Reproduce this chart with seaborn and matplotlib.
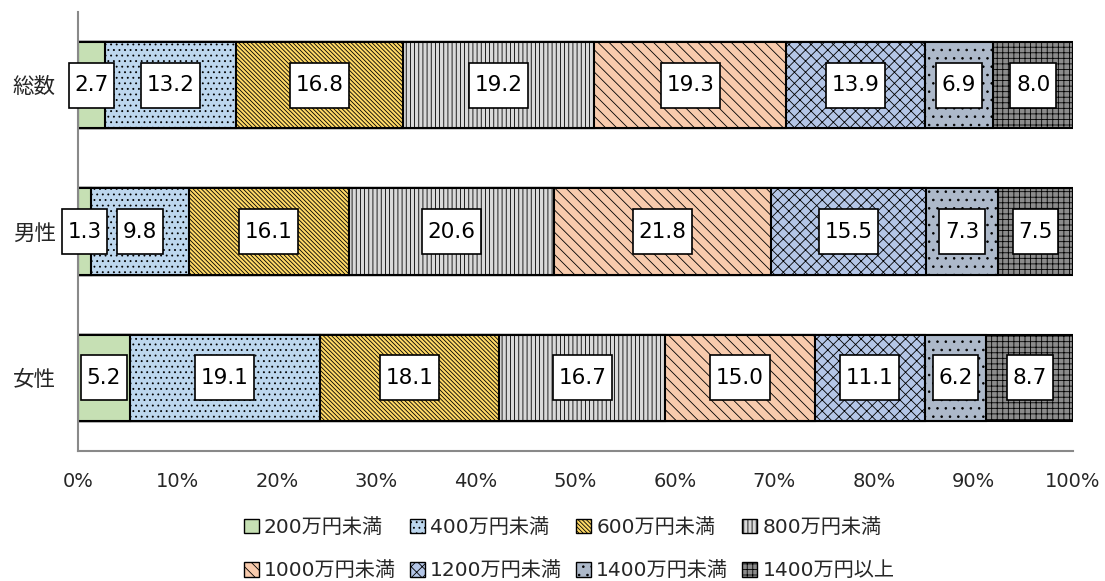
import matplotlib.pyplot as plt
import numpy as np
import pandas as pd
import seaborn as sns
from matplotlib.patches import Patch
from matplotlib.path import Path

# data
groups = ['総数', '男性', '女性']
brackets = ['200万円未満', '400万円未満', '600万円未満', '800万円未満',
            '1000万円未満', '1200万円未満', '1400万円未満', '1400万円以上']
total = [2.7, 13.2, 16.8, 19.2, 19.3, 13.9, 6.9, 8.0]
male = [1.3, 9.8, 16.1, 20.6, 21.8, 15.5, 7.3, 7.5]
female = [5.2, 19.1, 18.1, 16.7, 15.0, 11.1, 6.2, 8.7]

colors = ['#C6E0B4', '#BDD7EE', '#FFD966', '#D9D9D9',
          '#F8CBAD', '#B4C6E7', '#ADB9CA', '#8C8C8C']
hatches = ['', '...', '\\\\\\\\\\\\\\\\', '||||', '\\\\\\', 'xxx', '..', '+++']

sns.set_style('white')
plt.rcParams['font.family'] = ['DejaVu Sans', 'Noto Sans CJK JP']
plt.rcParams['hatch.linewidth'] = 0.6


# label box: a bit of side padding, more on top and bottom
def tall_box(x0, y0, width, height, mutation_size):
    px, py = 0.26 * mutation_size, 0.58 * mutation_size
    x0, y0 = x0 - px, y0 - py
    x1, y1 = x0 + width + 2 * px, y0 + height + 2 * py
    return Path([(x0, y0), (x1, y0), (x1, y1), (x0, y1), (x0, y0)], closed=True)


df = pd.DataFrame([total, male, female], index=groups, columns=brackets)
shares = df.div(df.sum(axis=1), axis=0) * 100
cum = shares.cumsum(axis=1)

fig = plt.figure(figsize=(11.05, 5.81), dpi=100)
ax = fig.add_axes([0.0706, 0.224, 0.9004, 0.755])

# stacked bars: draw cumulative totals from the last bracket backwards
for i in reversed(range(len(brackets))):
    sns.barplot(x=cum.iloc[:, i].values, y=groups, orient='h', ax=ax,
                color=colors[i], hatch=hatches[i], edgecolor='black',
                linewidth=1.5, width=0.59, saturation=1)

# value boxes
for gi, g in enumerate(groups):
    for i, b in enumerate(brackets):
        mid = cum.loc[g, b] - shares.loc[g, b] / 2
        ax.text(mid, gi, f'{df.loc[g, b]:.1f}', ha='center', va='center',
                fontsize=15.5, color='black',
                bbox=dict(boxstyle=tall_box, fc='white', ec='black', lw=1.2))

ax.set_xlim(0, 100)
ax.set_ylim(2.5, -0.5)
ax.set_xticks(np.arange(0, 101, 10))
ax.set_xticklabels([f'{t}%' for t in range(0, 101, 10)], fontsize=14)
ax.set_yticks(range(3))
ax.set_yticklabels(groups, fontsize=15.5)
ax.set_yticks([-0.5, 0.5, 1.5, 2.5], minor=True)
ax.tick_params(axis='y', which='major', length=0, pad=16)
ax.tick_params(axis='y', which='minor', length=6, color='#898989', direction='out')
ax.tick_params(axis='x', length=6, color='#898989', direction='out', pad=9)
ax.set_xlabel('')
ax.set_ylabel('')
for s in ['top', 'right']:
    ax.spines[s].set_visible(False)
for s in ['left', 'bottom']:
    ax.spines[s].set_color('#898989')
    ax.spines[s].set_linewidth(1.5)

handles = [Patch(facecolor=c, hatch=h, edgecolor='black', label=b)
           for c, h, b in zip(colors, hatches, brackets)]
# legend fills by column, so reorder to get row-wise reading
order = [0, 4, 1, 5, 2, 6, 3, 7]
fig.legend(handles=[handles[k] for k in order], loc='lower center',
           bbox_to_anchor=(0.515, -0.03), ncol=4, frameon=False, fontsize=14.5,
           handlelength=0.75, handleheight=0.75, handletextpad=0.25,
           columnspacing=0.7, labelspacing=1.2)

fig.savefig('out.png', dpi=100)
